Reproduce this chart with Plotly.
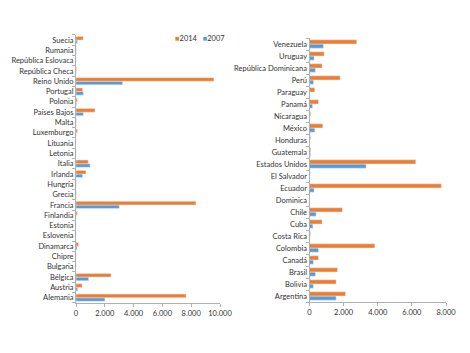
import plotly.graph_objects as go

# Left panel (Europe), bottom-to-top order
europa = ["Alemania", "Austria", "Bélgica", "Bulgaria", "Chipre", "Dinamarca", "Eslovenia",
          "Estonia", "Finlandia", "Francia", "Grecia", "Hungría", "Irlanda", "Italia",
          "Letonia", "Lituania", "Luxemburgo", "Malta", "Países Bajos", "Polonia",
          "Portugal", "Reino Unido", "República Checa", "República Eslovaca", "Rumania", "Suecia"]
europa_2014 = [7640, 420, 2430, 10, 10, 180, 10, 5, 100, 8330, 20, 20, 690, 850,
               5, 5, 100, 20, 1320, 100, 460, 9580, 30, 10, 20, 500]
europa_2007 = [2010, 120, 880, 0, 0, 80, 0, 0, 10, 3010, 10, 10, 460, 970,
               0, 0, 10, 5, 510, 30, 510, 3240, 10, 0, 10, 100]

# Right panel (Americas), bottom-to-top order
america = ["Argentina", "Bolivia", "Brasil", "Canadá", "Colombia", "Costa Rica", "Cuba",
           "Chile", "Dominica", "Ecuador", "El Salvador", "Estados Unidos", "Guatemala",
           "Honduras", "México", "Nicaragua", "Panamá", "Paraguay", "Perú",
           "República Dominicana", "Uruguay", "Venezuela"]
america_2014 = [2110, 1560, 1640, 530, 3830, 60, 740, 1930, 5, 7730, 40, 6230, 70,
                60, 780, 70, 530, 310, 1800, 740, 860, 2770]
america_2007 = [1560, 230, 350, 230, 530, 20, 200, 390, 0, 270, 10, 3320, 60,
                10, 310, 10, 180, 30, 240, 350, 270, 820]

x_ticks_left = [0, 2000, 4000, 6000, 8000, 10000]
x_ticks_right = [0, 2000, 4000, 6000, 8000]
series_names = ["2014", "2007"]

ORANGE = "#ED7D31"
BLUE = "#5B9BD5"
FONT = "Lato"
TXT = "#333333"

fig = go.Figure()
fig.add_trace(go.Bar(y=europa, x=europa_2007, orientation="h", name=series_names[1],
                     marker_color=BLUE, xaxis="x", yaxis="y"))
fig.add_trace(go.Bar(y=europa, x=europa_2014, orientation="h", name=series_names[0],
                     marker_color=ORANGE, xaxis="x", yaxis="y"))
fig.add_trace(go.Bar(y=america, x=america_2007, orientation="h", name=series_names[1],
                     marker_color=BLUE, xaxis="x2", yaxis="y2"))
fig.add_trace(go.Bar(y=america, x=america_2014, orientation="h", name=series_names[0],
                     marker_color=ORANGE, xaxis="x2", yaxis="y2"))

axis_common = dict(showgrid=False, zeroline=False, showline=True, linecolor="#B0B0B0",
                   linewidth=1, ticks="outside", tickcolor="#B0B0B0", ticklen=3,
                   automargin=False, tickfont=dict(family=FONT, size=7.5, color=TXT))

legend_text = (f"<span style='color:{ORANGE}'>■</span>{series_names[0]}"
               f"&nbsp;&nbsp;&nbsp;<span style='color:{BLUE}'>■</span>{series_names[1]}")

fig.update_layout(
    width=470, height=353,
    margin=dict(l=0, r=0, t=0, b=0),
    paper_bgcolor="white", plot_bgcolor="white",
    barmode="group", bargap=0.3, bargroupgap=0,
    separators=",.",
    showlegend=False,
    font=dict(family=FONT, size=7.5, color=TXT),
    xaxis=dict(domain=[76 / 470, 220 / 470], range=[0, 10000], tickvals=x_ticks_left,
               tickformat=",d", anchor="y", **axis_common),
    yaxis=dict(domain=[1 - 302.85 / 353, 1 - 34.85 / 353], type="category",
               tickson="boundaries", anchor="x", **axis_common),
    xaxis2=dict(domain=[309.5 / 470, 446 / 470], range=[0, 8000], tickvals=x_ticks_right,
                tickformat=",d", anchor="y2", **axis_common),
    yaxis2=dict(domain=[1 - 302 / 353, 1 - 38 / 353], type="category",
                tickson="boundaries", anchor="x2", **axis_common),
    annotations=[dict(text=legend_text, xref="paper", yref="paper", x=173 / 470,
                      y=1 - 38 / 353, xanchor="left", yanchor="middle", showarrow=False,
                      font=dict(family=FONT, size=7.5, color=TXT))],
)

fig.write_html("out.html")
